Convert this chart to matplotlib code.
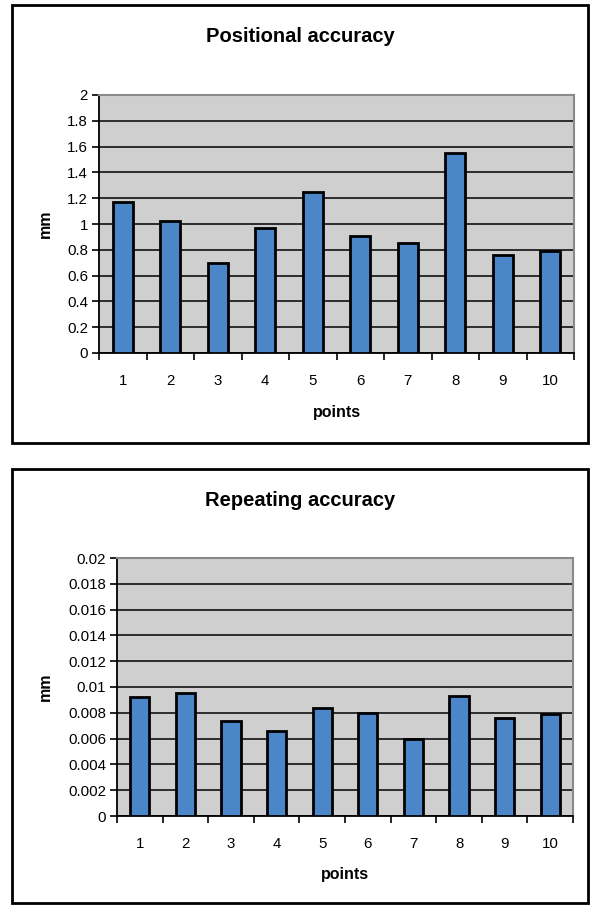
import matplotlib
matplotlib.use("Agg")
import matplotlib.pyplot as plt
from matplotlib.patches import Rectangle
import numpy as np

plt.rcParams['font.family'] = ['Liberation Sans', 'DejaVu Sans']

points = ['1', '2', '3', '4', '5', '6', '7', '8', '9', '10']
positional_mm = [1.17, 1.02, 0.70, 0.97, 1.25, 0.91, 0.85, 1.55, 0.76, 0.79]
repeating_mm = [0.0092, 0.0095, 0.0074, 0.0066, 0.0084, 0.0080, 0.0060, 0.0093, 0.0076, 0.0079]

positional_ticks = [0, 0.2, 0.4, 0.6, 0.8, 1, 1.2, 1.4, 1.6, 1.8, 2]
positional_labels = ['0', '0.2', '0.4', '0.6', '0.8', '1', '1.2', '1.4', '1.6', '1.8', '2']
repeating_ticks = [0, 0.002, 0.004, 0.006, 0.008, 0.01, 0.012, 0.014, 0.016, 0.018, 0.02]
repeating_labels = ['0', '0.002', '0.004', '0.006', '0.008', '0.01', '0.012',
                    '0.014', '0.016', '0.018', '0.02']

W, H = 591, 906
BAR_COLOR = '#4a86c8'
PLOT_BG = '#cfcfcf'


def px_axes(fig, left, top, right, bottom):
    """Add axes given pixel edges measured from the top-left corner."""
    return fig.add_axes([left / W, (H - bottom) / H, (right - left) / W, (bottom - top) / H])


def draw_panel(fig, rect, box, values, yticks, ylabels, title, title_y, label_x, xlabel_y):
    ax = px_axes(fig, *rect)
    x = np.arange(len(values))
    ax.set_facecolor(PLOT_BG)
    ax.bar(x, values, width=0.42, color=BAR_COLOR, edgecolor='black', linewidth=2, zorder=3)
    ax.set_xlim(-0.5, len(values) - 0.5)
    ax.set_ylim(yticks[0], yticks[-1])

    ax.set_yticks(yticks)
    ax.set_yticklabels(ylabels, fontsize=10.8)
    ax.set_xticks(x)
    ax.set_xticklabels(points, fontsize=10.8)
    ax.set_xticks(np.arange(len(values) + 1) - 0.5, minor=True)
    ax.tick_params(axis='x', which='major', length=0, pad=15)
    ax.tick_params(axis='x', which='minor', length=5, width=1.2, direction='out')
    ax.tick_params(axis='y', length=5, width=1.2, direction='out', pad=3)

    ax.grid(axis='y', color='black', linewidth=1.1, zorder=1)
    for s in ('top', 'right'):
        ax.spines[s].set_color('#8a8a8a')
        ax.spines[s].set_linewidth(1.5)
    for s in ('left', 'bottom'):
        ax.spines[s].set_color('black')
        ax.spines[s].set_linewidth(1.3)

    # outer frame round each chart
    l, t, r, b = box
    fig.patches.append(Rectangle((l / W, 1 - b / H), (r - l) / W, (b - t) / H,
                                 transform=fig.transFigure, fill=False,
                                 edgecolor='black', linewidth=2))

    cx = (l + r) / 2 / W
    fig.text(cx, 1 - title_y / H, title, ha='center', va='center',
             fontsize=14.5, fontweight='bold')
    fig.text(label_x / W, 1 - (rect[1] + rect[3]) / 2 / H, 'mm', ha='center', va='center',
             rotation=90, fontsize=11.5, fontweight='bold')
    fig.text((rect[0] + rect[2]) / 2 / W, 1 - xlabel_y / H, 'points', ha='center', va='center',
             fontsize=11.5, fontweight='bold')
    return ax


fig = plt.figure(figsize=(W / 100, H / 100), dpi=100)

draw_panel(fig, (99, 95, 574, 353), (12, 5, 588, 443), positional_mm,
           positional_ticks, positional_labels, 'Positional accuracy', 37, 45, 412)
draw_panel(fig, (117, 558, 573, 816), (12, 469, 588, 903), repeating_mm,
           repeating_ticks, repeating_labels, 'Repeating accuracy', 500, 45, 875)

fig.savefig('out.png', dpi=100)
